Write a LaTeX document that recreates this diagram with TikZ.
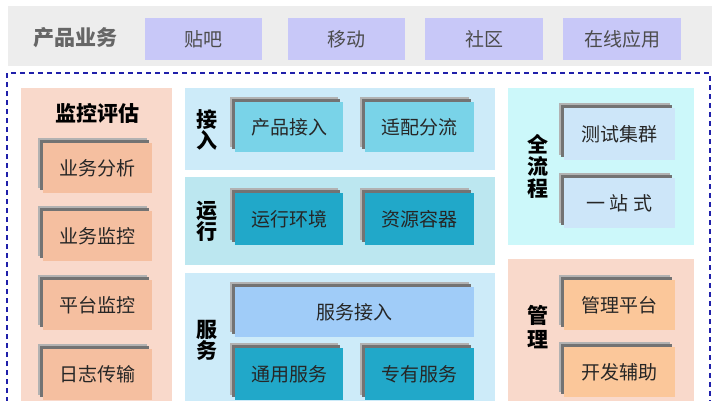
\documentclass[tikz,border=0pt]{standalone}
\usepackage{fontspec}
\setmainfont{Noto Sans CJK SC}
\begin{document}
\begin{tikzpicture}[x=1pt,y=-1pt,
  bx/.style={font=\fontsize{19}{22}\selectfont,text=black!85},
  lab/.style={font=\bfseries\fontsize{21}{23}\selectfont,align=center}]
\definecolor{lav}{HTML}{C8C8F8}
\definecolor{peachbg}{HTML}{F9D9CB}
\definecolor{peachbx}{HTML}{F5BFA0}
\definecolor{blubg}{HTML}{CDEBF9}
\definecolor{tealbg}{HTML}{BCE7F0}
\definecolor{ltteal}{HTML}{79D3E8}
\definecolor{dkteal}{HTML}{21A8C9}
\definecolor{skyb}{HTML}{A0CCF8}
\definecolor{cyanbg}{HTML}{CCF8FA}
\definecolor{palebl}{HTML}{CDE6F9}
\definecolor{orbx}{HTML}{FBC79A}
\useasboundingbox (0,0) rectangle (721,400);
\fill[white] (0,0) rectangle (721,400);
% top band
\fill[black!7] (8,6) rectangle (712,66);
\node[font=\bfseries\fontsize{21}{23}\selectfont,text=black!60] (pt) at (76,38) {产品业务};
\newcommand\topbox[4]{\fill[lav] (#1,18) rectangle (#2,60); \node[font=\fontsize{19}{22}\selectfont,text=black!70] (#4) at ({(#1+#2)/2},39) {#3};}
\topbox{145}{262}{贴吧}{tb}
\topbox{288}{405}{移动}{yd}
\topbox{425}{543}{社区}{sq}
\topbox{563}{681}{在线应用}{zx}
% dashed border
\draw[draw={rgb,255:red,32;green,32;blue,170},line width=1.3pt,dash pattern=on 5pt off 4pt] (7,402) -- (7,73) -- (710,73) -- (710,402);
% box macro with shadow
\newcommand\shbox[7]{%
 \fill[black!30] (#1-5,#3-5) rectangle (#2-5,#4-5);
 \fill[black!55] (#1-3,#3-3) rectangle (#2-3,#4-3);
 \fill[#5] (#1,#3) rectangle (#2,#4);
 \node[bx] (#7) at ({(#1+#2)/2},{(#3+#4)/2}) {#6};}
% left column
\fill[peachbg] (21,88) rectangle (172,402);
\node[lab] (jk) at (98,113) {监控评估};
\shbox{43}{152}{143}{193}{peachbx}{业务分析}{a1}
\shbox{43}{152}{211}{261}{peachbx}{业务监控}{a2}
\shbox{43}{152}{280}{330}{peachbx}{平台监控}{a3}
\shbox{43}{152}{349}{400}{peachbx}{日志传输}{a4}
% middle
\fill[blubg] (185,88) rectangle (495,170);
\fill[tealbg] (185,177) rectangle (495,265);
\fill[blubg] (185,273) rectangle (495,402);
\node[lab,font=\bfseries\fontsize{21}{21}\selectfont] (l1) at (207,130) {接\\入};
\node[lab,font=\bfseries\fontsize{21}{21}\selectfont] (l2) at (207,221) {运\\行};
\node[lab,font=\bfseries\fontsize{21}{21}\selectfont] (l3) at (207,340) {服\\务};
\shbox{235}{343}{102}{152}{ltteal}{产品接入}{b1}
\shbox{365}{474}{102}{152}{ltteal}{适配分流}{b2}
\shbox{235}{343}{193}{245}{dkteal}{运行环境}{b3}
\shbox{365}{474}{193}{245}{dkteal}{资源容器}{b4}
\shbox{235}{474}{287}{337}{skyb}{服务接入}{b5}
\shbox{235}{343}{348}{400}{dkteal}{通用服务}{b6}
\shbox{365}{474}{348}{400}{dkteal}{专有服务}{b7}
% right
\fill[cyanbg] (508,88) rectangle (694,245);
\fill[peachbg] (508,259) rectangle (694,402);
\node[lab,font=\bfseries\fontsize{21}{22}\selectfont] (l4) at (538,166) {全\\流\\程};
\node[lab,font=\bfseries\fontsize{21}{24}\selectfont] (l5) at (538,327) {管\\理};
\shbox{564}{675}{108}{160}{palebl}{测试集群}{c1}
\shbox{564}{675}{178}{228}{palebl}{一 站 式}{c2}
\shbox{564}{675}{280}{330}{orbx}{管理平台}{c3}
\shbox{564}{675}{347}{397}{orbx}{开发辅助}{c4}
\end{tikzpicture}
\end{document}
